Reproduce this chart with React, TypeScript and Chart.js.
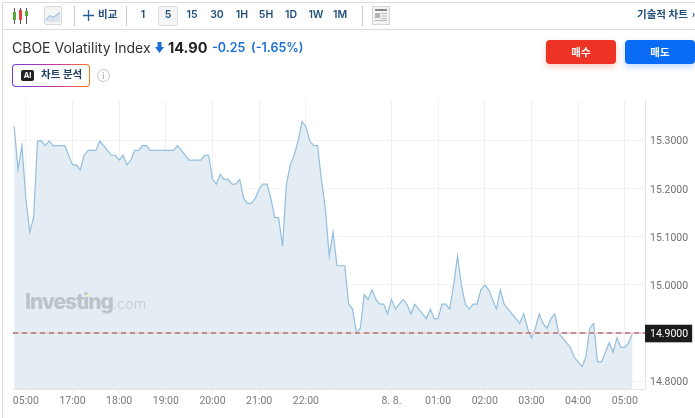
import React, { useEffect, useRef } from "react";
import { Chart, registerables } from "chart.js";

Chart.register(...registerables);

const prices = [
  15.33, 15.24, 15.29, 15.18, 15.11, 15.14, 15.30, 15.30, 15.29, 15.30,
  15.29, 15.29, 15.29, 15.29, 15.27, 15.25, 15.25, 15.24, 15.27, 15.28,
  15.28, 15.28, 15.30, 15.29, 15.28, 15.27, 15.27, 15.26, 15.27, 15.25,
  15.26, 15.28, 15.28, 15.29, 15.29, 15.28, 15.28, 15.28, 15.28, 15.28,
  15.28, 15.28, 15.29, 15.28, 15.27, 15.26, 15.26, 15.26, 15.26, 15.27,
  15.27, 15.22, 15.21, 15.23, 15.22, 15.22, 15.21, 15.21, 15.22, 15.18,
  15.17, 15.17, 15.18, 15.20, 15.21, 15.21, 15.18, 15.14, 15.14, 15.08,
  15.21, 15.25, 15.27, 15.30, 15.34, 15.33, 15.30, 15.29, 15.29, 15.22,
  15.16, 15.06, 15.11, 15.04, 15.04, 15.04, 14.96, 14.95, 14.90, 14.91,
  14.98, 14.97, 14.99, 14.97, 14.96, 14.96, 14.94, 14.97, 14.95, 14.96,
  14.97, 14.96, 14.94, 14.96, 14.95, 14.94, 14.93, 14.95, 14.93, 14.93,
  14.96, 14.96, 14.95, 15.00, 15.06, 15.00, 14.96, 14.95, 14.96, 14.96,
  14.99, 15.00, 14.99, 14.97, 14.95, 14.99, 14.96, 14.95, 14.94, 14.93,
  14.92, 14.94, 14.91, 14.89, 14.91, 14.94, 14.92, 14.91, 14.93, 14.94,
  14.90, 14.89, 14.88, 14.87, 14.85, 14.84, 14.83, 14.85, 14.91, 14.92,
  14.84, 14.84, 14.86, 14.88, 14.86, 14.89, 14.87, 14.87, 14.88, 14.90,
];
const timeTickIndexes = [3, 15, 27, 39, 51, 63, 75, 97, 109, 121, 133, 145, 157];
const timeTickLabels = ["05:00", "17:00", "18:00", "19:00", "20:00", "21:00", "22:00", "8. 8.", "01:00", "02:00", "03:00", "04:00", "05:00"];
const priceTicks = [14.8, 14.9, 15.0, 15.1, 15.2, 15.3];
const lastPrice = 14.9;
const timeframes = ["1", "5", "15", "30", "1H", "5H", "1D", "1W", "1M"];
const timeframeCenters = [143, 168, 192, 217, 242, 266, 291, 316, 340];

const FONT = "Roboto, 'Noto Sans CJK KR', sans-serif";
const UI = "Inter, 'Noto Sans CJK KR', sans-serif";

const abs = (left: number, top: number, extra: React.CSSProperties = {}): React.CSSProperties => ({
  position: "absolute", left, top, ...extra,
});

function Header() {
  const sep = (x: number) => <div key={x} style={abs(x, 6, { width: 1, height: 20, background: "#c9c9c9" })} />;
  return (
    <>
      <div style={abs(2, 2, { width: 693, height: 1, background: "#dcdcdc" })} />
      <div style={abs(2, 29, { width: 693, height: 1, background: "#dcdcdc" })} />
      <div style={abs(2, 2, { width: 1, height: 416, background: "#dcdcdc" })} />
      <svg style={abs(12, 7)} width="18" height="18" viewBox="0 0 18 18">
        <path d="M2.5 1V17M8.5 1V17M14.5 1V17" stroke="#555" strokeWidth="1" />
        <rect x="1" y="5" width="3" height="8" fill="#5aa83c" />
        <rect x="7" y="3" width="3" height="10" fill="#e2443a" />
        <rect x="13" y="4" width="3" height="5" fill="#5aa83c" />
      </svg>
      <div style={abs(44, 6, { width: 18, height: 19, border: "1px solid #d8d8d8", borderRadius: 2, background: "#f5f5f5", boxSizing: "border-box" })}>
        <svg width="16" height="17" viewBox="0 0 16 17" style={{ display: "block" }}>
          <path d="M1 13L5 8.5L8 10.5L15 5.5V15H1Z" fill="#dbe5f1" />
          <path d="M1 13L5 8.5L8 10.5L15 5.5" fill="none" stroke="#8fb0d6" strokeWidth="1" />
        </svg>
      </div>
      {[74, 126, 362].map(sep)}
      <svg style={abs(83, 10)} width="11" height="11" viewBox="0 0 11 11">
        <path d="M5.5 0V11M0 5.5H11" stroke="#1f5c94" strokeWidth="1.3" />
      </svg>
      <div style={abs(98, 7, { font: `600 10.5px ${FONT}`, color: "#1f4e79", lineHeight: "16px" })}>비교</div>
      <div style={abs(158, 6, { width: 20, height: 20, border: "1px solid #dedede", borderRadius: 2, background: "#f6f6f6", boxSizing: "border-box" })} />
      {timeframes.map((t, i) => (
        <div key={t} style={abs(timeframeCenters[i] - 15, 7, { width: 30, textAlign: "center", font: `600 10.5px ${UI}`, color: "#1f4e79", lineHeight: "16px" })}>{t}</div>
      ))}
      <div style={abs(372, 6, { width: 18, height: 19, border: "1px solid #d6d6d6", background: "#f3f3f3", boxSizing: "border-box" })}>
        <svg width="16" height="17" viewBox="0 0 16 17" style={{ display: "block" }}>
          <rect x="2" y="2" width="12" height="2" fill="#888" />
          <rect x="2" y="6" width="5" height="5" fill="#b3b3b3" />
          <path d="M8 6.5H14M8 9H14M8 11.5H14M2 13.5H14" stroke="#bbb" strokeWidth="1" />
        </svg>
      </div>
      <div style={abs(637, 7, { font: `600 10.5px ${FONT}`, color: "#1f4e79", lineHeight: "16px", whiteSpace: "nowrap" })}>기술적 차트<span style={{ marginLeft: 4 }}>›</span></div>

      <div style={abs(12, 39, { font: `400 14px ${UI}`, color: "#333", lineHeight: "18px", whiteSpace: "nowrap" })}>CBOE Volatility Index</div>
      <svg style={abs(155, 42)} width="9" height="11" viewBox="0 0 9 11">
        <path d="M2.5 0H6.5V5H9L4.5 11L0 5H2.5Z" fill="#1d6fd6" />
      </svg>
      <div style={abs(168, 38, { font: `700 14.5px ${UI}`, color: "#222", lineHeight: "20px" })}>14.90</div>
      <div style={abs(212, 39, { font: `600 12.5px ${UI}`, color: "#1d6fd6", lineHeight: "18px", whiteSpace: "nowrap" })}>-0.25</div>
      <div style={abs(251, 39, { font: `600 12.5px ${UI}`, color: "#1d6fd6", lineHeight: "18px", whiteSpace: "nowrap" })}>(-1.65%)</div>

      <div style={abs(12, 64, { width: 78, height: 23, borderRadius: 4, padding: 1, boxSizing: "border-box", background: "linear-gradient(90deg,#6a3fe0,#d0359a 60%,#ff7a1a)" })}>
        <div style={{ width: "100%", height: "100%", borderRadius: 3, background: "#fff" }} />
      </div>
      <div style={abs(21, 70, { width: 13, height: 11, borderRadius: 2, background: "#222", color: "#fff", font: `700 7.5px ${UI}`, lineHeight: "11px", textAlign: "center" })}>AI</div>
      <div style={abs(41, 67, { font: `700 10.5px ${FONT}`, color: "#1f3f66", lineHeight: "16px", whiteSpace: "nowrap" })}>차트 분석</div>
      <div style={abs(97, 69, { width: 13, height: 13, borderRadius: "50%", border: "1px solid #c4c4c4", boxSizing: "border-box", color: "#b0b0b0", font: `500 9px ${UI}`, lineHeight: "11px", textAlign: "center" })}>i</div>

      <div style={abs(546, 40, { width: 70, height: 24, borderRadius: 4, background: "#ee3324", boxShadow: "0 3px 6px rgba(238,51,36,0.25)", color: "#fff", font: `700 10.5px ${FONT}`, lineHeight: "25px", textAlign: "center" })}>매수</div>
      <div style={abs(625, 40, { width: 70, height: 24, borderRadius: 4, background: "#0a6cf5", boxShadow: "0 3px 6px rgba(10,108,245,0.25)", color: "#fff", font: `700 10.5px ${FONT}`, lineHeight: "25px", textAlign: "center" })}>매도</div>
    </>
  );
}

export default function App() {
  const ref = useRef<HTMLCanvasElement>(null);
  useEffect(() => {
    const chart = new Chart(ref.current!, {
      type: "line",
      data: {
        datasets: [
          {
            data: [{ x: -0.3, y: lastPrice }, { x: 162.2, y: lastPrice }],
            borderColor: "#7a5055",
            borderWidth: 1,
            borderDash: [5, 4],
            pointRadius: 0,
            fill: false,
            order: 1,
          },
          {
            data: [{ x: -0.3, y: lastPrice }, { x: 162.2, y: lastPrice }],
            borderColor: "#f3d3d5",
            borderWidth: 2,
            pointRadius: 0,
            fill: false,
            order: 2,
          },
          {
            data: prices.map((y, x) => ({ x, y })),
            borderColor: "#93bedd",
            borderWidth: 1.2,
            backgroundColor: "#e4edf4",
            fill: "start",
            pointRadius: 0,
            tension: 0,
            order: 3,
          },
        ],
      },
      options: {
        animation: false,
        responsive: false,
        devicePixelRatio: 1,
        layout: { padding: { left: 13, top: 100, right: 0, bottom: 0 } },
        plugins: { legend: { display: false }, tooltip: { enabled: false } },
        scales: {
          x: {
            type: "linear",
            min: -0.3,
            max: 162.2,
            afterBuildTicks: (axis: any) => {
              axis.ticks = timeTickIndexes.map((value) => ({ value }));
            },
            afterFit: (axis: any) => { axis.height = 29; },
            grid: { color: "#eef1f4", lineWidth: 1, tickLength: 4 },
            border: { color: "#e4e4e4" },
            ticks: {
              autoSkip: false,
              maxRotation: 0,
              padding: 2,
              color: "#7a7a7a",
              font: { family: "Roboto", size: 10.5 },
              callback: (v: any) => timeTickLabels[timeTickIndexes.indexOf(Number(v))],
            },
          },
          y: {
            position: "right",
            min: 14.7835,
            max: 15.385,
            afterBuildTicks: (axis: any) => {
              axis.ticks = priceTicks.map((value) => ({ value }));
            },
            afterFit: (axis: any) => { axis.width = 50; },
            grid: { color: "#f2f3f5", lineWidth: 1, tickLength: 0 },
            border: { color: "#e4e4e4" },
            ticks: {
              padding: 5,
              labelOffset: 1,
              color: (c: any) => (c.tick.value === lastPrice ? "#ffffff" : "#6f6f6f"),
              font: { family: "Roboto", size: 10.5 },
              showLabelBackdrop: (c: any) => c.tick.value === lastPrice,
              backdropColor: "#1c1c1c",
              backdropPadding: { left: 5, right: 4, top: 3, bottom: 2 },
              callback: (v: any) => Number(v).toFixed(4),
            },
          },
        },
      },
    } as any);
    return () => chart.destroy();
  }, []);
  return (
    <div style={{ position: "fixed", left: 0, top: 0, width: 695, height: 418, overflow: "hidden", background: "#fff" }}>
      <canvas ref={ref} width={695} height={418} style={abs(0, 0, { display: "block", width: 695, height: 418 })} />
      <Header />
      <div style={abs(25, 289, { color: "#bcc3c9", whiteSpace: "nowrap", lineHeight: "28px", font: `800 21px ${UI}`, letterSpacing: -1 })}>
        Investing<span style={{ font: `300 14.5px ${UI}`, letterSpacing: 0, color: "#c5cbd0" }}>.com</span>
      </div>
      <div style={abs(86, 294, { width: 3, height: 3, background: "#f2e6b4" })} />
    </div>
  );
}
